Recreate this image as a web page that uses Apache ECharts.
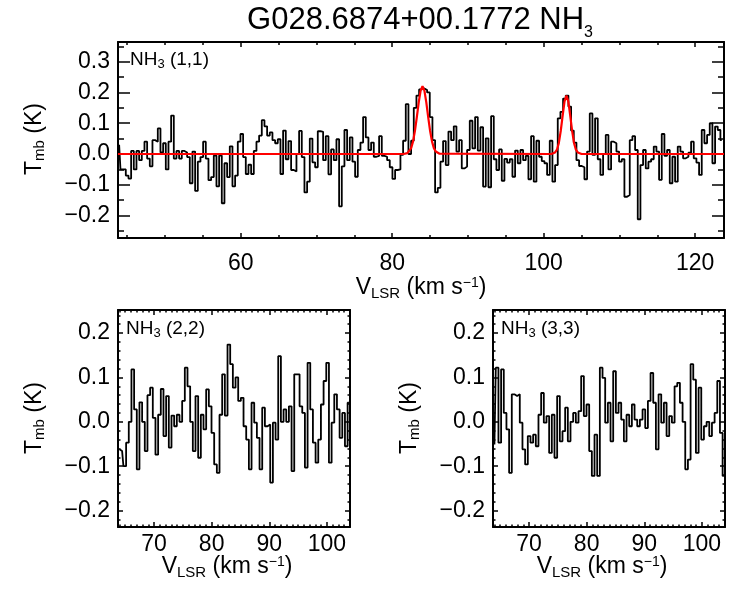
<!DOCTYPE html>
<html>
<head>
<meta charset="utf-8">
<script src="https://cdn.jsdelivr.net/npm/echarts@6/dist/echarts.min.js"></script>
<style>
  html, body { margin: 0; padding: 0; background: #fff; }
  #chart { width: 750px; height: 600px; }
</style>
</head>
<body>
<div id="chart"></div>
<script>
// NH3 (1,1) spectrum, main beam temperature per channel (K)
var v11Start = 43.95;
var v11Step = 0.352;
var t11 = [
  0.03, -0.05, -0.05, -0.07, -0.08, 0.01, -0.05, 0.01, -0.02, 0.01,
  0.04, -0.015, -0.04, 0.045, 0.04, 0.083, 0.005, 0.035, -0.05, 0.04,
  0.125, -0.015, 0.01, -0.015, 0.01, 0.005, -0.01, -0.095, 0.008, -0.12,
  -0.025, -0.01, 0.04, -0.015, -0.085, -0.075, -0.005, -0.105, -0.005, -0.16,
  -0.03, -0.075, 0.025, -0.105, -0.07, 0.04, 0.065, -0.01, -0.065, -0.035,
  -0.065, 0.01, 0.04, 0.06, 0.11, 0.09, 0.06, 0.07,
  0.045, 0.035, 0.048, -0.065, 0.076, -0.017, 0.042, -0.052, -0.057, 0,
  0.075, -0.01, -0.125, -0.09, 0.05, -0.027, -0.043, 0.074, 0.072, -0.02,
  0.058, -0.066, 0.015, -0.02, 0.048, -0.17, -0.04, 0.078, -0.02, 0.054,
  -0.025, -0.074, 0.013, 0.037, 0.12, 0.054, 0.013, 0.037, -0.009, -0.006,
  0.058, -0.006, -0.009, -0.02, -0.043, -0.081, -0.052, -0.05, -0.003, 0.043,
  0.162, 0, 0.043, 0.15, 0.19, 0.21, 0.213,
  0.208, 0.2, 0.12, 0.045, -0.125, -0.11, -0.025, 0.042, -0.036, 0.073,
  0.045, 0.09, 0.008, 0.045, -0.047, -0.041, 0.013, 0.108, 0.018, 0.12,
  0.011, 0.087, -0.106, 0.051, -0.108, 0.123, -0.017, -0.052, 0.015, -0.087,
  -0.016, -0.028, -0.017, -0.074, 0.011, -0.03, 0.013, -0.02, -0.006, -0.082,
  0.058, -0.09, 0.043, -0.009, -0.023, -0.03, -0.068, 0.043, -0.09, -0.036,
  0.116, 0.137, 0.18, 0.19, 0.154, 0.076,
  0.037, -0.02, -0.039, -0.043, -0.082, 0.008, 0.132, -0.003, 0.116, -0.017,
  -0.068, 0, 0.062, -0.05, 0.04, 0.035, 0.008, -0.025, -0.017, -0.139,
  -0.133, 0.045, 0.058, 0.013, -0.212, -0.036, 0.013, -0.047, -0.025, -0.017,
  0.024, 0.008, -0.084, 0.065, -0.006, 0.013, -0.095, -0.009, -0.09, 0.024,
  0.008, -0.014, -0.009, 0.004, 0.04, -0.014, -0.028, -0.068, 0.078, 0.035,
  0.062, 0.1, -0.03, 0.089, 0.078, 0.045
];

// red gaussian fit
var fitV = [43.8, 81.5, 81.75, 82.0, 82.25, 82.5, 82.75, 83.0, 83.25, 83.5, 83.75,
  84.0, 84.25, 84.5, 84.75, 85.0, 85.25, 85.5, 85.75, 86.0, 86.25, 86.5,
  101.0, 101.25, 101.5, 101.75, 102.0, 102.25, 102.5, 102.75, 103.0,
  103.25, 103.5, 103.75, 104.0, 104.25, 104.5, 104.75, 105.0, 123.8];
var fitT = [0, 0, 0.001, 0.003, 0.008, 0.019, 0.041, 0.075, 0.12, 0.168, 0.206,
  0.22, 0.206, 0.168, 0.12, 0.075, 0.041, 0.019, 0.008, 0.003, 0.001, 0,
  0, 0.001, 0.005, 0.014, 0.036, 0.075, 0.125, 0.171, 0.19,
  0.171, 0.125, 0.075, 0.036, 0.014, 0.005, 0.001, 0, 0];

// NH3 (2,2) and (3,3) spectra
var vLowStart = 64.0;
var vLowStep = 0.463;
var t22 = [
  -0.062, -0.066, -0.10, -0.047, 0.0, 0.118, 0.028, -0.107, 0.044, 0.0,
  -0.066, 0.06, 0.077, 0.009, -0.074, 0.016, 0.074, -0.032, 0.058, -0.058,
  0.014, -0.01, 0.016, 0.0, 0.047, 0.122, 0.08, 0.0, -0.066, 0.058,
  -0.081, 0.016, -0.017, 0.073, 0.035, -0.025, -0.096, -0.115, 0.016, 0.107,
  0.014, 0.174, 0.13, 0.077, 0.1, 0.047, 0.054, -0.01, -0.04, -0.107,
  0.043, -0.002, -0.036, -0.107, 0.032, -0.01, -0.006, -0.137, -0.002, -0.04,
  0.148, 0.0, 0.028, 0.0, 0.035, -0.111, 0.107, 0.107, 0.035, 0.02,
  -0.103, 0.133, 0.028, -0.047, -0.092, -0.04, 0.039, 0.092, 0.133, -0.092,
  -0.002, 0.062, 0.028, -0.036, 0.02, -0.055, 0.043
];
var t33 = [
  -0.051, 0.122, -0.047, 0.118, 0.02, -0.017, -0.115, 0.062, 0.058, 0.062,
  -0.002, -0.062, -0.096, -0.032, -0.047, -0.029, -0.055, 0.016, 0.065, -0.002,
  0.013, -0.07, 0.016, -0.081, 0.058, -0.044, -0.021, 0.032, -0.044, 0.0,
  0.02, -0.002, 0.024, 0.103, 0.013, 0.039, -0.066, -0.122, -0.029, -0.122,
  0.122, 0.099, -0.002, 0.043, -0.044, 0.114, 0.02, 0.043, 0.005, -0.044,
  0.016, -0.01, 0.039, 0.005, -0.01, 0.005, 0.028, -0.014, 0.047, 0.11,
  0.043, -0.062, 0.062, -0.002, 0.043, -0.032, 0.013, -0.002, 0.08, 0.088,
  0.043, 0.0, -0.107, -0.085, 0.13, 0.095, -0.07, 0.077, -0.04, -0.01,
  0.0, -0.032, -0.002, 0.02, 0.092, -0.025, -0.122
];

// tick labels
var topXTicks = [60, 80, 100, 120];
var topYTicks = [-0.2, -0.1, 0, 0.1, 0.2, 0.3];
var lowXTicks = [70, 80, 90, 100];
var lowYTicks = [-0.2, -0.1, 0, 0.1, 0.2];

function range(a, b, step, scale) {
  var out = [];
  for (var i = a; i <= b; i += step) out.push(i / scale);
  return out;
}
var topXMinor = range(45, 120, 5, 1);
var topYMinor = range(-25, 35, 5, 100);
var lowXMinor = range(64, 104, 1, 1);
var lowYMinor = range(-22, 24, 2, 100);

function spectrum(start, step, vals) {
  return vals.map(function (t, i) { return [start + i * step, t]; });
}

var FONT = 'Liberation Sans';
var chart = echarts.init(document.getElementById('chart'));

var xAxes = [], yAxes = [];
function fmt1(v) { return v.toFixed(1).replace('-', '\u2212'); }

// four framed sides per panel, majors and minors as separate axes
function addFrame(gi, xr, yr, xMaj, xMin, yMaj, yMin, len, mx, my) {
  var xi = xAxes.length, yi = yAxes.length;
  ['bottom', 'top'].forEach(function (pos, side) {
    [[xMaj, len[0]], [xMin, len[1]]].forEach(function (t, minor) {
      xAxes.push({
        type: 'value', gridIndex: gi, position: pos, min: xr[0], max: xr[1],
        axisLine: { show: !minor, onZero: false, lineStyle: { color: '#000', width: 2 } },
        axisTick: { show: true, inside: true, customValues: t[0], length: t[1],
          lineStyle: { color: '#000', width: 1.5 } },
        axisLabel: { show: side === 0 && !minor, customValues: t[0], margin: mx,
          color: '#000', fontFamily: FONT, fontSize: 23, formatter: function (v) { return String(v); } },
        splitLine: { show: false }
      });
    });
  });
  ['left', 'right'].forEach(function (pos, side) {
    [[yMaj, len[2]], [yMin, len[3]]].forEach(function (t, minor) {
      yAxes.push({
        type: 'value', gridIndex: gi, position: pos, min: yr[0], max: yr[1],
        axisLine: { show: !minor, onZero: false, lineStyle: { color: '#000', width: 2 } },
        axisTick: { show: true, inside: true, customValues: t[0], length: t[1],
          lineStyle: { color: '#000', width: 1.5 } },
        axisLabel: { show: side === 0 && !minor, customValues: t[0], margin: my,
          color: '#000', fontFamily: FONT, fontSize: 23, formatter: fmt1 },
        splitLine: { show: false }
      });
    });
  });
  return [xi, yi];
}

var a0 = addFrame(0, [43.8, 123.8], [-0.273, 0.364], topXTicks, topXMinor, topYTicks, topYMinor, [5, 3, 12, 6], 14, 8);
var a1 = addFrame(1, [63.75, 104], [-0.237, 0.252], lowXTicks, lowXMinor, lowYTicks, lowYMinor, [5, 2.5, 5, 2.5], 6, 8);
var a2 = addFrame(2, [63.75, 104], [-0.237, 0.252], lowXTicks, lowXMinor, lowYTicks, lowYMinor, [5, 2.5, 5, 2.5], 6, 8);

function histo(axes, data) {
  return {
    type: 'line', xAxisIndex: axes[0], yAxisIndex: axes[1], data: data,
    step: 'middle', showSymbol: false, z: 3,
    lineStyle: { color: '#000', width: 1.8 }
  };
}

var fitSeries = {
  type: 'line', xAxisIndex: a0[0], yAxisIndex: a0[1], z: 4, showSymbol: false,
  data: fitV.map(function (v, i) { return [v, fitT[i]]; }),
  lineStyle: { color: '#ff0000', width: 2.2 }
};

// rich text styles for subscripts / superscripts
function richSet(big, small, sub, sup) {
  return {
    m: { fontFamily: FONT, fontSize: big, lineHeight: big, verticalAlign: 'top', color: '#000' },
    s: { fontFamily: FONT, fontSize: small, lineHeight: small, verticalAlign: 'top', color: '#000', padding: [sub, 0, 0, 0] },
    p: { fontFamily: FONT, fontSize: small - 1, lineHeight: small - 1, verticalAlign: 'top', color: '#000', padding: [sup, 0, 0, 0] }
  };
}
function label(txt, x, y, big, small, sub, align, rot) {
  return {
    type: 'text', x: x, y: y, rotation: rot || 0, z: 10,
    style: {
      text: txt, rich: richSet(big, small, sub, 0),
      align: align, textAlign: align, verticalAlign: 'top', textVerticalAlign: 'top'
    }
  };
}

var vTitle = '{m|V}{s|LSR}{m| (km s}{p|\u22121}{m|)}';
var tTitle = '{m|T}{s|mb}{m| (K)}';

var option = {
  animation: false,
  backgroundColor: '#fff',
  grid: [
    { left: 118, top: 42, width: 606, height: 196 },
    { left: 118, top: 310, width: 232, height: 217 },
    { left: 493, top: 310, width: 232, height: 217 }
  ],
  xAxis: xAxes,
  yAxis: yAxes,
  series: [
    histo(a0, spectrum(v11Start, v11Step, t11)),
    fitSeries,
    histo(a1, spectrum(vLowStart, vLowStep, t22)),
    histo(a2, spectrum(vLowStart, vLowStep, t33))
  ],
  graphic: [
    label('{m|G028.6874+00.1772 NH}{s|3}', 420, 5, 31, 16, 20, 'center'),
    label('{m|NH}{s|3}{m| (1,1)}', 130, 50, 19, 13, 8, 'left'),
    label('{m|NH}{s|3}{m| (2,2)}', 126, 319, 19, 13, 8, 'left'),
    label('{m|NH}{s|3}{m| (3,3)}', 501, 319, 19, 13, 8, 'left'),
    label(vTitle, 421, 276, 23, 15, 10, 'center'),
    label(vTitle, 227, 555, 23, 15, 10, 'center'),
    label(vTitle, 602, 555, 23, 15, 10, 'center'),
    label(tTitle, 23, 139, 23, 15, 9, 'center', Math.PI / 2),
    label(tTitle, 23, 418, 23, 15, 9, 'center', Math.PI / 2),
    label(tTitle, 398, 418, 23, 15, 9, 'center', Math.PI / 2)
  ]
};

chart.setOption(option);
</script>
</body>
</html>
